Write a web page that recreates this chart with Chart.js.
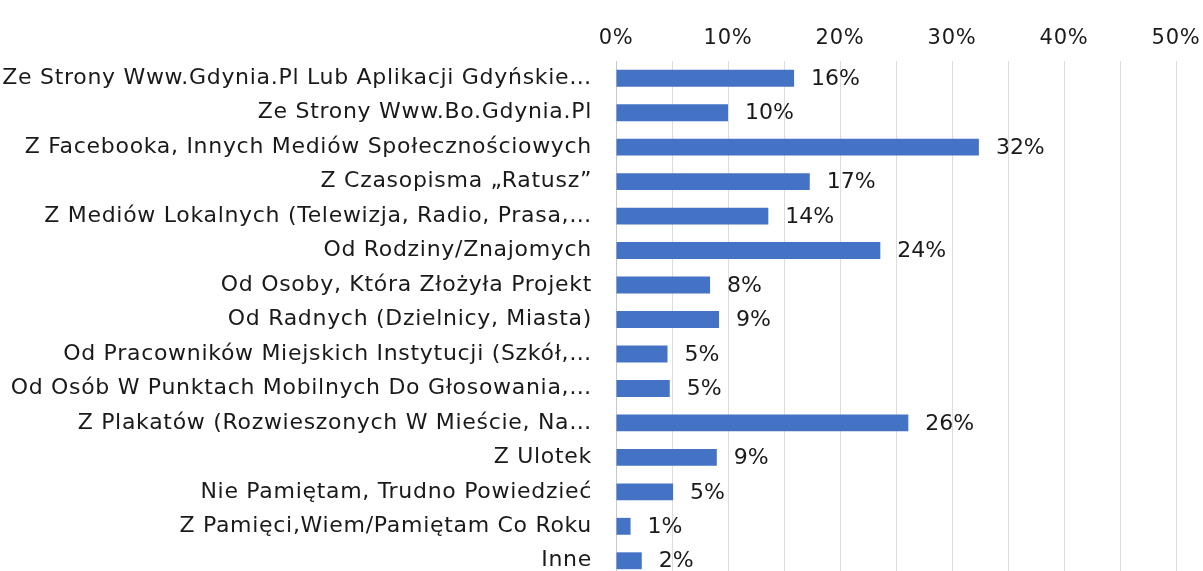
<!DOCTYPE html>
<html>
<head>
<meta charset="utf-8">
<script src="https://cdn.jsdelivr.net/npm/chart.js@4/dist/chart.umd.min.js"></script>
<style>
  html, body { margin: 0; padding: 0; background: #fff; overflow: hidden; }
  canvas { display: block; }
</style>
</head>
<body>
<canvas id="c" width="1203" height="578" style="width:1203px;height:578px"></canvas>
<script>
const categories = [
  "Ze Strony Www.Gdynia.Pl Lub Aplikacji Gdyńskie…",
  "Ze Strony Www.Bo.Gdynia.Pl",
  "Z Facebooka, Innych Mediów Społecznościowych",
  "Z Czasopisma „Ratusz”",
  "Z Mediów Lokalnych (Telewizja, Radio, Prasa,…",
  "Od Rodziny/Znajomych",
  "Od Osoby, Która Złożyła Projekt",
  "Od Radnych (Dzielnicy, Miasta)",
  "Od Pracowników Miejskich Instytucji (Szkół,…",
  "Od Osób W Punktach Mobilnych Do Głosowania,…",
  "Z Plakatów (Rozwieszonych W Mieście, Na…",
  "Z Ulotek",
  "Nie Pamiętam, Trudno Powiedzieć",
  "Z Pamięci,Wiem/Pamiętam Co Roku",
  "Inne"
];
const values = [15.9, 10.0, 32.4, 17.3, 13.6, 23.6, 8.4, 9.2, 4.6, 4.8, 26.1, 9.0, 5.1, 1.3, 2.3];
const xTickMax = 50;
const xGridStep = 5;
const xLabelStep = 10;

const FONT = "'DejaVu Sans', sans-serif";
const TEXT = '#1a1a1a';

const spacing = {
  id: 'spacing',
  beforeDraw(chart) { chart.ctx.letterSpacing = '0.7px'; }
};

const dataLabels = {
  id: 'dataLabels',
  afterDatasetsDraw(chart) {
    const ctx = chart.ctx;
    const meta = chart.getDatasetMeta(0);
    ctx.save();
    ctx.letterSpacing = '0px';
    ctx.font = "22px " + FONT;
    ctx.fillStyle = TEXT;
    ctx.textAlign = 'left';
    ctx.textBaseline = 'middle';
    meta.data.forEach((bar, i) => {
      ctx.fillText(Math.round(values[i]) + '%', bar.x + 17, bar.y + 1);
    });
    ctx.restore();
  }
};

new Chart(document.getElementById('c'), {
  type: 'bar',
  data: {
    labels: categories,
    datasets: [{
      data: values,
      backgroundColor: '#4472C4',
      borderWidth: 0,
      barPercentage: 0.49,
      categoryPercentage: 1.0
    }]
  },
  options: {
    indexAxis: 'y',
    responsive: false,
    animation: false,
    layout: { padding: { left: 0, right: 27, top: 0, bottom: 0 } },
    plugins: { legend: { display: false }, tooltip: { enabled: false } },
    scales: {
      x: {
        position: 'top',
        min: 0,
        max: xTickMax,
        afterFit(scale) { scale.height = 61; scale.paddingLeft = 0; scale.paddingRight = 0; },
        ticks: {
          stepSize: xGridStep,
          autoSkip: false,
          maxRotation: 0,
          padding: 10,
          color: TEXT,
          font: { family: FONT, size: 21 },
          callback: (v) => (v % xLabelStep === 0 ? v + '%' : '')
        },
        grid: { color: '#dcdcdc', lineWidth: 1, drawTicks: false },
        border: { display: false }
      },
      y: {
        afterFit(scale) { scale.width = 616; scale.paddingTop = 0; scale.paddingBottom = 0; },
        ticks: {
          autoSkip: false,
          padding: 24,
          color: TEXT,
          font: { family: FONT, size: 22 }
        },
        grid: { display: false, drawTicks: false },
        border: { display: true, color: '#c8c8c8', width: 1 }
      }
    }
  },
  plugins: [spacing, dataLabels]
});
</script>
</body>
</html>
